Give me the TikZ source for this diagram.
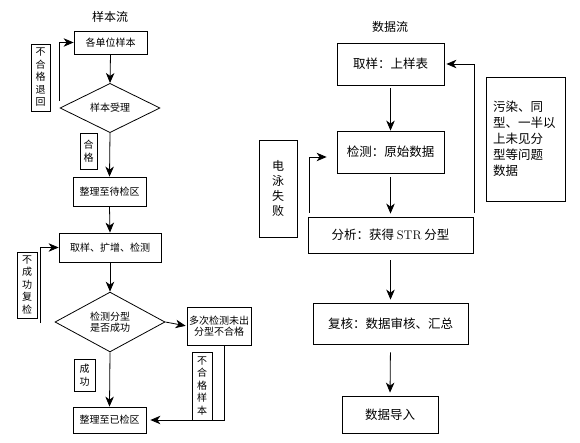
\documentclass[tikz,border=0pt]{standalone}
\usepackage{fontspec}
\newfontfamily\cjk{Noto Sans CJK SC}
\usetikzlibrary{shapes.geometric,arrows.meta}
\begin{document}
\begin{tikzpicture}[x=1pt,y=-1pt,
  box/.style={draw, line width=0.8pt, inner sep=0pt, align=center},
  sm/.style={font=\cjk\fontsize{10}{10.5}\selectfont},
  lg/.style={font=\cjk\fontsize{12.5}{16}\selectfont},
  ttl/.style={font=\cjk\fontsize{12}{14}\selectfont},
  vlab/.style={draw, line width=0.8pt, inner sep=0pt, align=center, font=\cjk\fontsize{10}{12.5}\selectfont},
  dia/.style={draw, diamond, line width=0.8pt, inner sep=0pt, align=center, font=\cjk\fontsize{10}{10.5}\selectfont},
  arr/.style={-{Stealth[length=10pt,width=8.5pt,inset=3pt]}, line width=0.8pt},
  ln/.style={line width=0.8pt}]
\useasboundingbox (0,0) rectangle (580,443);

% ---------- left: sample flow ----------
\node[ttl] (t1) at (110,17) {样本流};
\node[box, sm, minimum width=73pt, minimum height=23pt] (A) at (110.5,42.5) {各单位样本};
\node[dia, minimum width=100pt, minimum height=37pt] (D1) at (110,108) {样本受理};
\node[box, sm, minimum width=73pt, minimum height=29pt] (B) at (109.5,191.5) {整理至待检区};
\node[box, sm, minimum width=102pt, minimum height=29pt] (C) at (110,247.5) {取样、扩增、检测};
\node[dia, minimum width=110pt, minimum height=55pt] (D2) at (110,322) {检测分型\\是否成功};
\node[box, sm, minimum width=64pt, minimum height=38pt] (E) at (219,326) {多次检测未出\\分型不合格};
\node[box, sm, minimum width=73pt, minimum height=26pt] (F) at (109.5,420) {整理至已检区};

\node[vlab, minimum width=19pt, minimum height=67pt] (L1) at (40.5,77.5) {不\\合\\格\\退\\回};
\node[vlab, minimum width=17pt, minimum height=36pt] (L2) at (88.5,151) {合\\格};
\node[vlab, minimum width=20pt, minimum height=66pt] (L3) at (27,285) {不\\成\\功\\复\\检};
\node[vlab, minimum width=21pt, minimum height=32pt] (L4) at (84.5,375) {成\\功};
\node[vlab, minimum width=20pt, minimum height=68pt] (L5) at (202,386) {不\\合\\格\\样\\本};

\coordinate (f1) at (59,101);
\coordinate (f2) at (40,323);

\draw[arr] (A.south) -- (D1.north);
\draw[arr] (f1) |- (A.west);
\draw[arr] (D1.south) -- (B.north);
\draw[arr] (B.south) -- (C.north);
\draw[arr] (f2) |- (C.west);
\draw[arr] (C.south) -- (D2.north);
\draw[arr, shorten >=1pt] (D2.east) -- (E.west);
\draw[arr, shorten >=4pt] ([xshift=5pt]E.south) |- (F.east);
\draw[arr] (D2.south) -- (F.north);

% ---------- right: data flow ----------
\node[ttl] (t2) at (390,27) {数据流};
\node[box, lg, minimum width=107pt, minimum height=42pt] (G) at (390.5,64) {取样：上样表};
\node[box, lg, minimum width=107pt, minimum height=42pt] (H) at (390.5,152) {检测：原始数据};
\node[box, lg, minimum width=165pt, minimum height=36pt] (I) at (390.5,235) {分析：获得 {\fontspec{Latin Modern Roman}STR} 分型};
\node[box, lg, minimum width=155pt, minimum height=41pt] (J) at (390.5,323.5) {复核：数据审核、汇总};
\node[box, lg, minimum width=96pt, minimum height=37pt] (K) at (390,414.5) {数据导入};

\node[box, font=\cjk\fontsize{12}{15}\selectfont, minimum width=38pt, minimum height=97pt] (M) at (278,188.5) {电\\泳\\失\\败};
\node[box, lg, align=left, inner xsep=7pt, text width=65pt, minimum height=124pt] (N) at (525.5,139) {污染、同\\型、一半以\\上未见分\\型等问题\\数据};
\coordinate (f3) at (309,213);
\coordinate (f4) at (474,213);

\draw[arr, shorten <=3pt] (G.south) -- (H.north);
\draw[arr, shorten <=4pt, shorten >=3pt] (H.south) -- (I.north);
\draw[arr, shorten <=7pt, shorten >=3pt] (I.south) -- (J.north);
\draw[arr, shorten <=8pt, shorten >=3pt] (J.south) -- (K.north);
\draw[arr, shorten >=10pt] (f3) |- ([yshift=-5pt]H.west);
\draw[arr, shorten >=2pt] (f4) |- (G.east);
\end{tikzpicture}
\end{document}
